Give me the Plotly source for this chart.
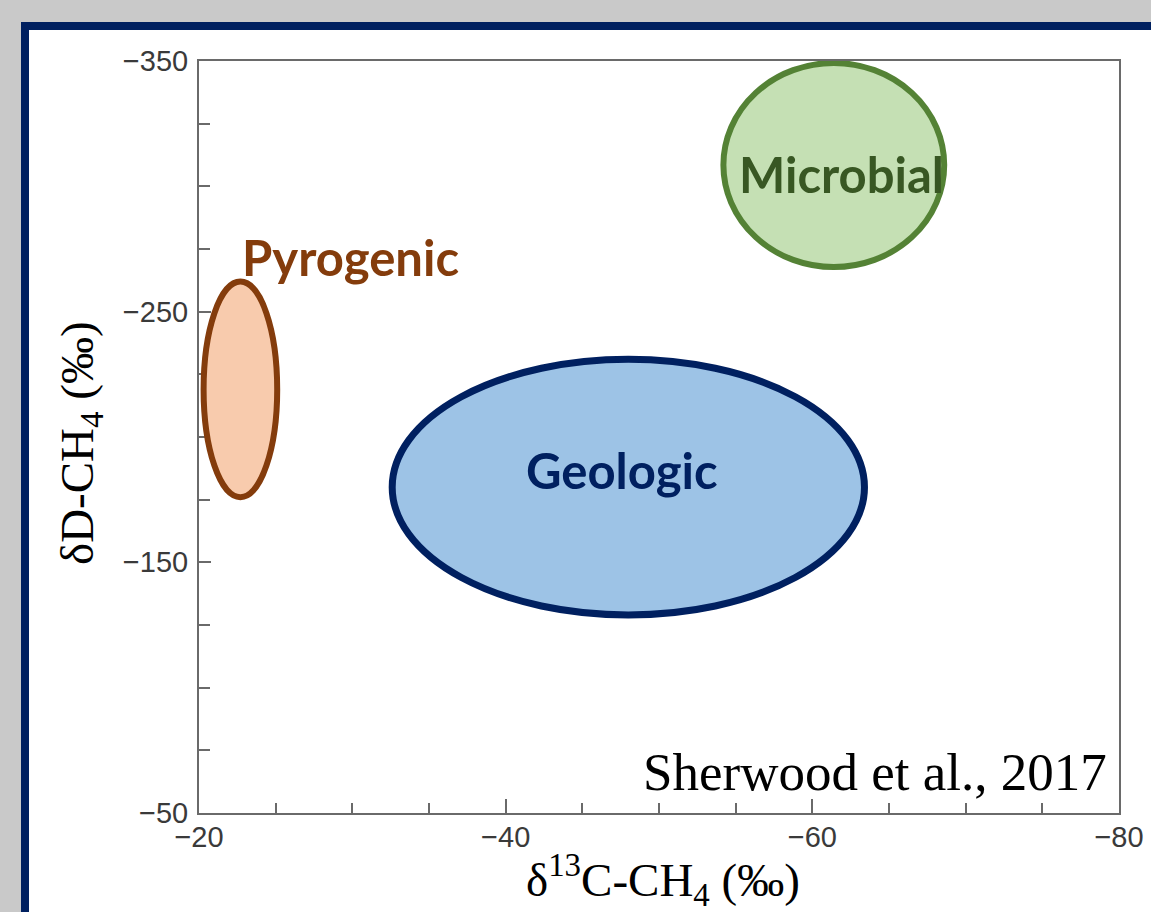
import plotly.graph_objects as go

# ---- data ----
groups = ["Pyrogenic", "Geologic", "Microbial"]
center_c13 = [-22.7, -48.0, -61.4]      # δ13C-CH4 (‰)
center_dD = [-219.0, -180.0, -308.5]    # δD-CH4 (‰)
semi_c13 = [2.4, 15.4, 7.2]
semi_dD = [43.0, 51.0, 40.7]
label_c13 = [-29.9, -47.6, -61.9]
label_dD = [-272.0, -187.0, -305.0]

fill_colors = ["#f8cbad", "#9dc3e6", "#c5e0b4"]
line_colors = ["#843c0c", "#002060", "#548235"]
text_colors = ["#843c0c", "#002060", "#385723"]
line_widths = [6, 7, 6]

x_range = [-20, -80]
y_range = [-50, -350]

W, H = 1151, 912
L, R, T, B = 199, 1151 - 1119, 61, 912 - 813
pw, ph = W - L - R, H - T - B


def px(xp):
    return (xp - L) / pw


def py(yp):
    return (H - B - yp) / ph


fig = go.Figure()
# invisible trace to establish axes
fig.add_trace(go.Scatter(x=center_c13, y=center_dD, mode="markers",
                         marker=dict(opacity=0), hoverinfo="skip", showlegend=False))

shapes = [
    dict(type="rect", xref="paper", yref="paper",
         x0=px(25), x1=px(1170), y0=py(930), y1=py(26),
         line=dict(color="#002060", width=8), fillcolor="white", layer="below"),
]
for i in range(len(groups)):
    shapes.append(dict(type="circle", xref="x", yref="y",
                       x0=center_c13[i] - semi_c13[i], x1=center_c13[i] + semi_c13[i],
                       y0=center_dD[i] - semi_dD[i], y1=center_dD[i] + semi_dD[i],
                       fillcolor=fill_colors[i],
                       line=dict(color=line_colors[i], width=line_widths[i]),
                       layer="above"))

annotations = []
for i, g in enumerate(groups):
    annotations.append(dict(x=label_c13[i], y=label_dD[i], xref="x", yref="y",
                            text="<b>%s</b>" % g, showarrow=False,
                            font=dict(family="Lato", size=49, color=text_colors[i]),
                            xanchor="center", yanchor="middle"))
annotations.append(dict(x=px(1109), y=py(772), xref="paper", yref="paper",
                        text="Sherwood et al., 2017", showarrow=False,
                        xanchor="right", yanchor="middle",
                        font=dict(family="Liberation Serif", size=53, color="black")))
annotations.append(dict(x=px(663), y=py(880), xref="paper", yref="paper",
                        text="δ<sup>13</sup>C-CH<sub>4</sub> (‰)", showarrow=False,
                        xanchor="center", yanchor="middle",
                        font=dict(family="Liberation Serif", size=47, color="black")))
annotations.append(dict(x=px(80), y=py(443), xref="paper", yref="paper",
                        text="δD-CH<sub>4</sub> (‰)", showarrow=False, textangle=-90,
                        xanchor="center", yanchor="middle",
                        font=dict(family="Liberation Serif", size=47, color="black")))

axis_common = dict(showline=True, mirror=True, linecolor="#6a6a6a", linewidth=2,
                   showgrid=False, zeroline=False, ticks="inside", tickcolor="#6a6a6a",
                   tickwidth=2,
                   tickfont=dict(family="Liberation Sans", size=29, color="#3a3a3a"))

fig.update_layout(
    width=W, height=H,
    margin=dict(l=L, r=R, t=T, b=B, autoexpand=False),
    paper_bgcolor="#c9c9c9",
    plot_bgcolor="rgba(0,0,0,0)",
    showlegend=False,
    shapes=shapes,
    annotations=annotations,
    xaxis=dict(range=x_range, tick0=-20, dtick=20, ticklen=14,
               minor=dict(dtick=5, ticks="inside", ticklen=10, tickcolor="#6a6a6a", tickwidth=2),
               ticklabelstandoff=-3, **axis_common),
    yaxis=dict(range=y_range, tick0=-350, dtick=100, ticklen=12,
               minor=dict(dtick=25, ticks="inside", ticklen=11, tickcolor="#6a6a6a", tickwidth=2),
               ticklabelstandoff=3, **axis_common),
)

fig.write_html("out.html", config={"displayModeBar": False},
               post_script="document.body.style.margin='0';document.body.style.background='#c9c9c9';")
